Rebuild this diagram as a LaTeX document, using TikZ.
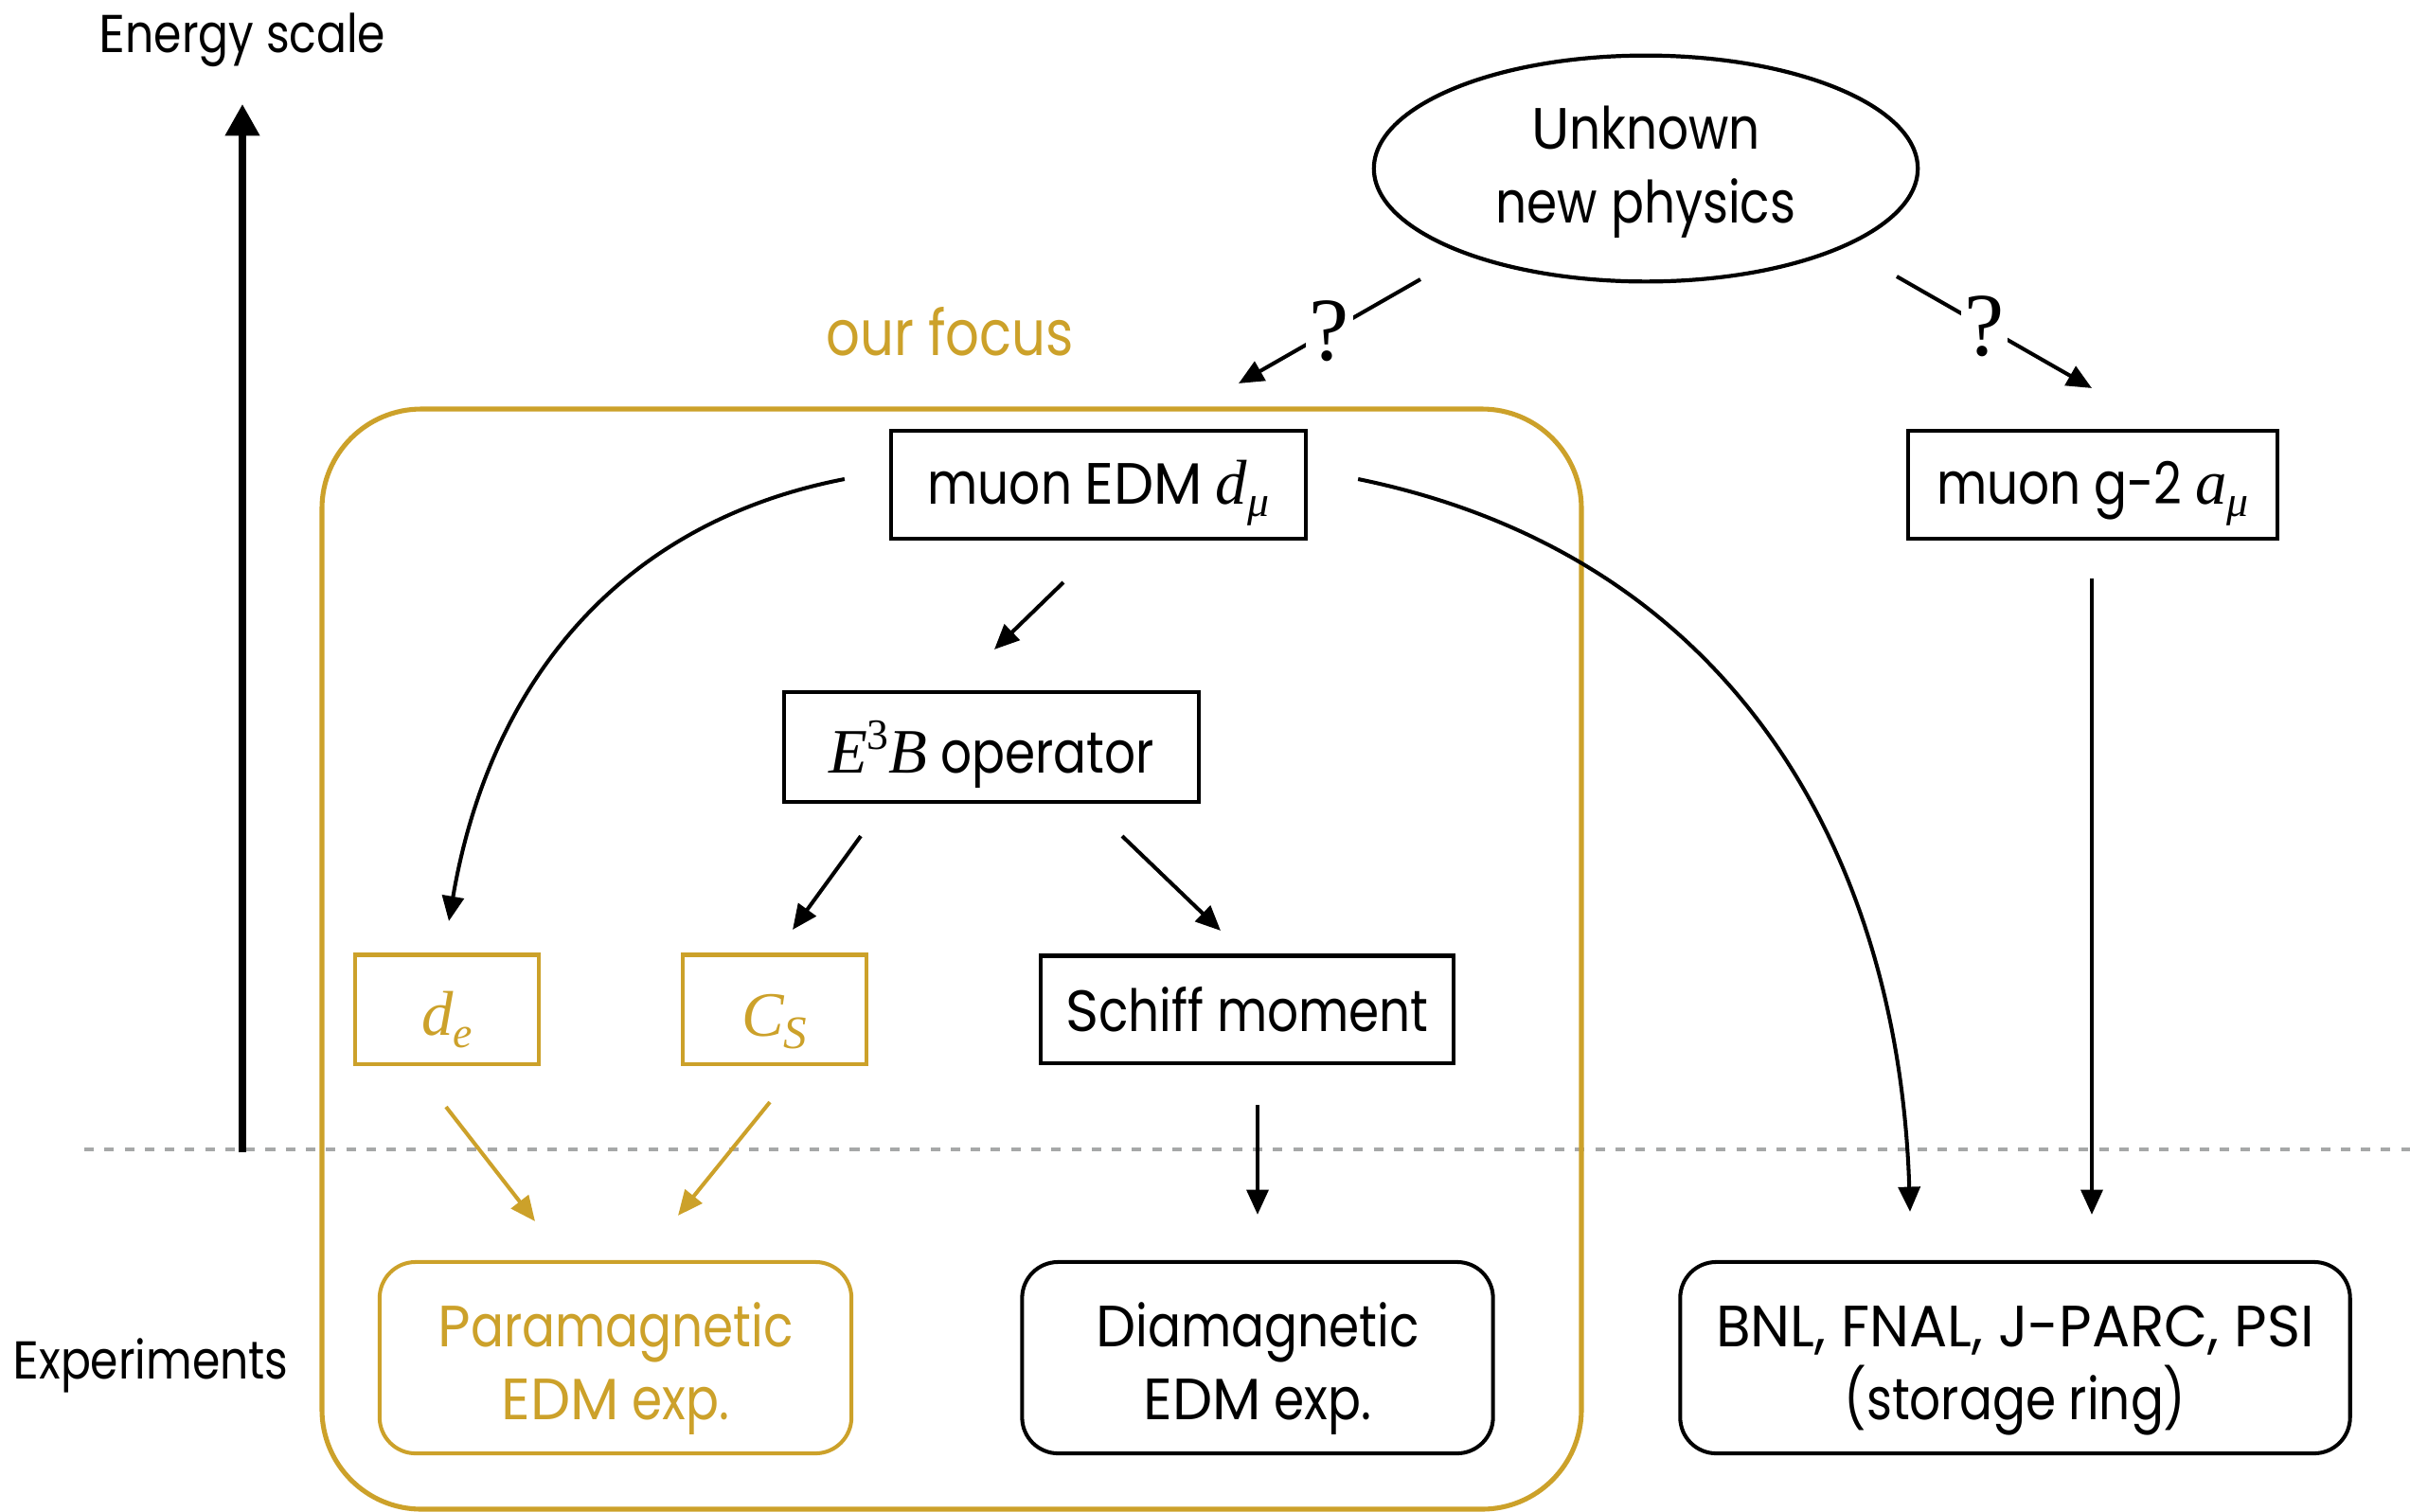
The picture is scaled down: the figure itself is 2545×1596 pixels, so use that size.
\documentclass[tikz,border=0pt]{standalone}
\usepackage{fontspec}
\setmainfont{Poppins}[FakeStretch=0.84]
\newfontfamily\capsfont{Poppins}[FakeStretch=0.97]
\newfontfamily\tmfont{Liberation Serif}
\usetikzlibrary{arrows.meta,calc,shapes.geometric}
\definecolor{gold}{RGB}{204,161,42}
\definecolor{dashgray}{RGB}{166,168,168}
\newcommand\C[1]{{\capsfont #1}}
\newcommand\mi[1]{{\tmfont\itshape\fontsize{19}{22}\selectfont #1}}
\newcommand\msub[2]{\mi{#1}\raisebox{-0.4ex}{\tmfont\itshape\fontsize{13}{13}\selectfont #2}}
% strut putting the baseline #1 below the node centre
\newcommand\bl[1]{\rule[\dimexpr#1-13pt\relax]{0pt}{26pt}}
\newcommand\topst[1]{\rule{0pt}{#1}}
\newcommand\botst[1]{\rule[-#1]{0pt}{#1}}
\newcommand\nodefont{\fontsize{17.5}{22}\selectfont}
\newcommand\labelfont{\fontsize{16}{18}\selectfont}
\begin{document}
\begin{tikzpicture}[x=0.01cm,y=-0.01cm,
  box/.style={draw, line width=1.15pt, inner sep=0pt, font=\nodefont, align=center},
  gbox/.style={box, draw=gold, text=gold},
  rbox/.style={box, rounded corners=0.38cm, minimum height=2.02cm},
  arr/.style={-{Triangle[length=7.5pt,width=6.5pt]}, line width=1.15pt},
  garr/.style={arr, draw=gold, color=gold},
  qmark/.style={fill=white, inner sep=1pt, font=\tmfont\fontsize{27}{27}\selectfont}]
\useasboundingbox (0,0) rectangle (2545,1596);

% dashed divider
\coordinate (dl) at (89,1214);
\coordinate (dr) at (2545,1214);
\draw[dashgray, line width=1.4pt, dash pattern=on 2.85pt off 3.2pt] (dl) -- (dr);

% big focus frame
\draw[gold, line width=1.45pt, rounded corners=1.05cm] (340,432) rectangle (1670,1594);

% labels
\node[font=\labelfont] (energy) at (256,42) {\C{E}nergy scale};
\node[font=\labelfont] (exper) at (159,1442) {\C{E}xperiments};
\node[font=\fontsize{19}{22}\selectfont, text=gold] (focus) at (1003,350) {our focus};

% energy axis
\coordinate (ebase) at (256,1217);
\coordinate (etop) at (256,110);
\draw[line width=2pt, -{Triangle[length=9.5pt,width=10pt]}] (ebase) -- (etop);

% nodes
\node[ellipse, draw, line width=1.2pt, minimum width=5.74cm, minimum height=2.34cm, inner sep=0pt, font=\nodefont, align=center] (unk) at (1738,178) {\topst{18.3pt}\C{U}nknown\\new physics\botst{7.7pt}};
\node[box, minimum width=4.37cm, minimum height=1.14cm] (muE) at (1160,512) {\bl{5.8pt}muon \C{EDM} \msub{d}{μ}};
\node[box, minimum width=3.90cm, minimum height=1.14cm] (g2) at (2210,512) {\bl{5.8pt}muon g-2 \msub{a}{μ}};
\node[box, minimum width=4.38cm, minimum height=1.16cm] (e3b) at (1047,789) {\bl{7.8pt}\mi{E}\raisebox{0.75ex}{\tmfont\fontsize{13}{13}\selectfont 3}\mi{B} operator};
\node[gbox, minimum width=1.93cm, minimum height=1.15cm] (de) at (472,1066) {\bl{7.8pt}\msub{d}{e}};
\node[gbox, minimum width=1.94cm, minimum height=1.15cm] (cs) at (818,1066) {\bl{8pt}\mi{C}\raisebox{-0.4ex}{\tmfont\itshape\fontsize{14}{14}\selectfont S}};
\node[box, minimum width=4.36cm, minimum height=1.13cm] (schiff) at (1317,1066) {\bl{6.8pt}\C{S}chiff moment};
\node[rbox, draw=gold, text=gold, minimum width=4.98cm] (para) at (650,1434) {\topst{20.6pt}\C{P}aramagnetic\\\C{EDM} exp.\botst{5.4pt}};
\node[rbox, minimum width=4.97cm] (dia) at (1328,1434) {\topst{20.6pt}\C{D}iamagnetic\\\C{EDM} exp.\botst{5.4pt}};
\node[rbox, minimum width=7.07cm] (bnl) at (2128,1434) {\topst{20.6pt}\C{BNL, FNAL, J-PARC, PSI}\\(storage ring)\botst{5.4pt}};

% question-mark arrows
\draw[arr] ($(unk.center)+(-238,117)$) -- node[qmark, pos=0.5] {?} ($(muE.north)+(148,-48)$);
\draw[arr] ($(unk.center)+(265,114)$) -- node[qmark, pos=0.45] {?} ($(g2.north)+(-1,-43)$);

% straight arrows
\draw[arr] ($(muE.south)+(-37,44)$) -- ($(e3b.north)+(3,-43)$);
\draw[arr] ($(e3b.south)+(-138,34)$) -- ($(cs.north)+(19,-24.5)$);
\draw[arr] ($(e3b.south)+(138,34)$) -- ($(schiff.north)+(-28,-24.5)$);
\draw[arr] ($(schiff.south)+(11,42.5)$) -- ($(dia.north)+(0,-48)$);
\draw[arr] ($(g2.south)+(-1,40)$) -- ($(bnl.north)+(81,-48)$);
\draw[garr] ($(de.south)+(-1,43.5)$) -- ($(para.north)+(-85,-41)$);
\draw[garr] ($(cs.south)+(-5,38.5)$) -- ($(para.north)+(66,-47)$);

% curved arrows
\draw[arr] ($(muE.west)+(-47.5,-6)$) .. controls (649,553) and (516,727) .. ($(de.north)+(2,-33.5)$);
\draw[arr] ($(muE.east)+(53.5,-6)$) .. controls (1844,590) and (2006,920) .. ($(bnl.north)+(-111,-51)$);
\end{tikzpicture}
\end{document}
